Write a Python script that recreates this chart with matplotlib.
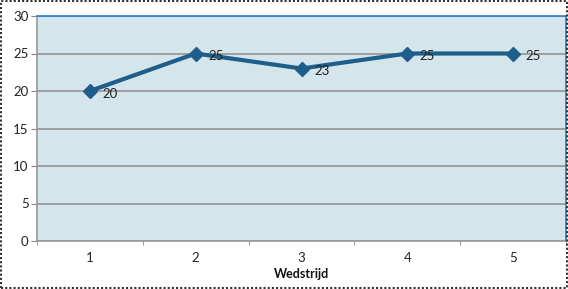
from matplotlib import pyplot as plt
from matplotlib.patches import Rectangle

plt.rcParams["font.family"] = ["Lato", "DejaVu Sans"]

matches = ["1", "2", "3", "4", "5"]
scores = [20, 25, 23, 25, 25]
y_ticks = [0, 5, 10, 15, 20, 25, 30]

fig = plt.figure(figsize=(5.68, 2.89), dpi=100)
ax = fig.add_axes([37 / 568, 1 - 241 / 289, (566 - 37) / 568, (241 - 16) / 289])

ax.set_facecolor("#d5e5ec")
xs = list(range(len(matches)))
ax.plot(xs, scores, color="#1f5e8a", linewidth=3, marker="D", markersize=7,
        markerfacecolor="#1f5e8a", markeredgecolor="#1f5e8a", zorder=3)
for x, v in zip(xs, scores):
  ax.annotate(str(v), (x, v), xytext=(9, -2), textcoords="offset points",
              ha="left", va="center", fontsize=9.5, color="#222222", zorder=4)

ax.set_xlim(-0.5, len(matches) - 0.5)
ax.set_ylim(0, 30)
ax.set_yticks(y_ticks)
ax.set_xticks(xs)
ax.set_xticklabels(matches)
ax.set_xticks([i - 0.5 for i in range(len(matches) + 1)], minor=True)
ax.tick_params(axis="x", which="major", length=0, pad=8, labelsize=9.5, colors="#222222")
ax.tick_params(axis="x", which="minor", length=3, color="#888888")
ax.tick_params(axis="y", length=4, color="#888888", labelsize=9.5, labelcolor="#222222", pad=2)
ax.yaxis.grid(True, color="#999999", linewidth=1.3)
ax.set_axisbelow(True)

ax.spines["top"].set_color("#2a7fc9")
ax.spines["right"].set_color("#2a7fc9")
ax.spines["left"].set_color("#999999")
ax.spines["bottom"].set_color("#999999")
for s in ax.spines.values():
  s.set_linewidth(1.2)

ax.set_xlabel("Wedstrijd", fontsize=9, fontweight="bold", labelpad=3, color="#111111")

fig.patches.append(Rectangle((0.001, 0.002), 0.997, 0.995, transform=fig.transFigure,
                             fill=False, linestyle=(0, (1, 1)), linewidth=1.5, edgecolor="#333333"))

plt.savefig("out.png", dpi=100)
plt.close()
